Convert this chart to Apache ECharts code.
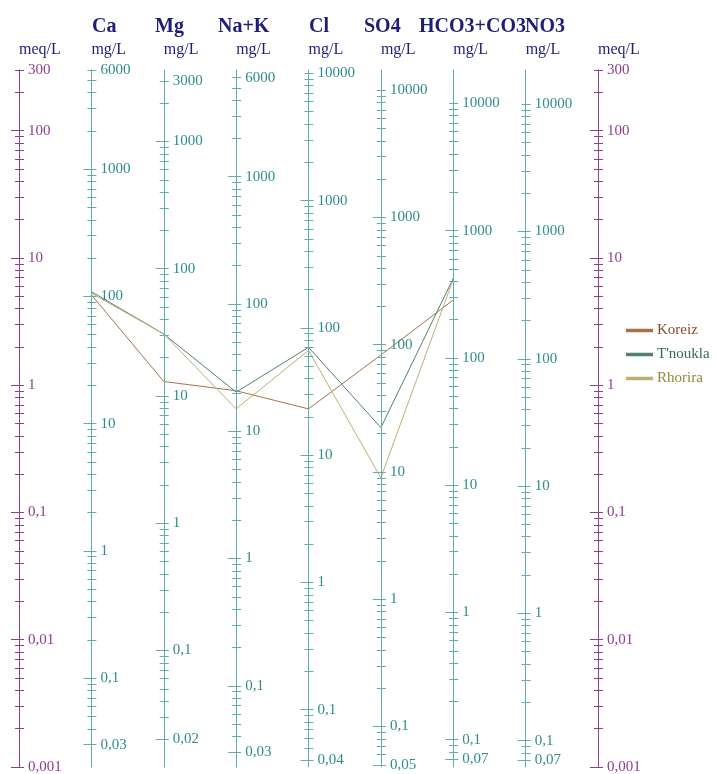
<!DOCTYPE html>
<html>
<head>
<meta charset="utf-8">
<title>Schoeller</title>
<script src="https://cdn.jsdelivr.net/npm/echarts@6/dist/echarts.min.js"></script>
<style>
  html, body { margin: 0; padding: 0; background: #fff; }
  #chart { width: 717px; height: 774px; }
</style>
</head>
<body>
<div id="chart"></div>
<script>
// ions, in the order of the vertical axes (between the two meq/L axes)
const ions = ['Ca', 'Mg', 'Na+K', 'Cl', 'SO4', 'HCO3+CO3', 'NO3'];
// mg per meq for each ion
const eqWeights = [20.04, 12.15, 22.99, 35.45, 48.03, 61.02, 62.0];

// samples, mg/L (NO3 not measured)
const sampleNames = ['Koreiz', "T'noukla", 'Rhorira'];
const koreiz = [103, 13, 20.8, 23.1, 83, 285, null];
const tnoukla = [109, 30.7, 20.3, 70.4, 22.3, 422, null];
const rhorira = [106, 30.7, 15.0, 66.5, 9.0, 415, null];

// labelled ticks of each axis
const meqLabels = [0.001, 0.01, 0.1, 1, 10, 100, 300];
const caLabels = [0.03, 0.1, 1, 10, 100, 1000, 6000];
const mgLabels = [0.02, 0.1, 1, 10, 100, 1000, 3000];
const naLabels = [0.03, 0.1, 1, 10, 100, 1000, 6000];
const clLabels = [0.04, 0.1, 1, 10, 100, 1000, 10000];
const so4Labels = [0.05, 0.1, 1, 10, 100, 1000, 10000];
const hco3Labels = [0.07, 0.1, 1, 10, 100, 1000, 10000];
const no3Labels = [0.07, 0.1, 1, 10, 100, 1000, 10000];
const ionLabels = [caLabels, mgLabels, naLabels, clLabels, so4Labels, hco3Labels, no3Labels];

// meq/L range shared by every axis
const meqMin = 0.001;
const meqMax = 300;

const FONT = 'Liberation Serif';
const PURPLE = '#8e3f8e';
const TEAL_LINE = '#62acac';
const TEAL_TEXT = '#2f8c8c';
const NAVY = '#1e1e78';
const lineColors = ['#a8704c', '#4f8273', '#bdb070'];
const textColors = ['#8b4a26', '#2e6e50', '#8e8a3a'];

const log10 = Math.log10;

// every n*10^k between the first and the last label
function tickValues(labels) {
  const lo = labels[0];
  const hi = labels[labels.length - 1];
  const out = [];
  for (let k = Math.floor(log10(lo)); k <= Math.ceil(log10(hi)); k++) {
    for (let n = 1; n <= 9; n++) {
      const v = +(n * Math.pow(10, k)).toPrecision(6);
      if (v >= lo * 0.999 && v <= hi * 1.001) out.push(v);
    }
  }
  return out;
}

function fmt(v) {
  return String(+Math.pow(10, v).toPrecision(6)).replace('.', ',');
}

// axis descriptions: meq/L, ions in mg/L, meq/L
const axisDefs = [{ unit: 'meq/L', factor: 1, labels: meqLabels, line: PURPLE, text: PURPLE }]
  .concat(ions.map((ion, i) => ({
    unit: 'mg/L', factor: eqWeights[i], labels: ionLabels[i], line: TEAL_LINE, text: TEAL_TEXT
  })))
  .concat([{ unit: 'meq/L', factor: 1, labels: meqLabels, line: PURPLE, text: PURPLE }]);

// three overlaid layers of the same axes: right ticks + labels, short left ticks, long left ticks
// (parallel axes ignore axisTick.inside, so the left ticks use a negative length)
function buildAxes(layer) {
  return axisDefs.map((d, i) => {
    const ticks = tickValues(d.labels);
    const longTicks = d.labels.slice(0, -1);
    const axis = {
      dim: i,
      parallelIndex: layer,
      type: 'value',
      min: log10(meqMin * d.factor),
      max: log10(meqMax * d.factor),
      silent: true,
      axisLine: { show: layer === 0, lineStyle: { color: d.line, width: 1 } },
      splitLine: { show: false },
      // parallel always shows labels, so blank them on the tick-only layers
      axisLabel: { formatter: () => '', customValues: [] }
    };
    if (layer === 0) {
      axis.name = d.unit;
      axis.nameLocation = 'end';
      axis.nameGap = 20;
      axis.nameTextStyle = {
        fontFamily: FONT, fontSize: 16, color: NAVY, align: 'left', verticalAlign: 'middle'
      };
      axis.axisTick = {
        show: true, length: 5,
        lineStyle: { color: d.line, width: 1 },
        customValues: ticks.map(log10)
      };
      axis.axisLabel = {
        show: true, margin: 9, fontFamily: FONT, fontSize: 15, color: d.text,
        customValues: d.labels.map(log10),
        formatter: fmt
      };
    } else if (layer === 1) {
      axis.axisTick = {
        show: true, length: -4,
        lineStyle: { color: d.line, width: 1 },
        customValues: ticks.map(log10)
      };
    } else {
      axis.axisTick = {
        show: true, length: -8,
        lineStyle: { color: d.line, width: 1 },
        customValues: longTicks.map(log10)
      };
    }
    return axis;
  });
}

function toRow(values) {
  return ['-'].concat(values.map(v => (v == null ? '-' : log10(v)))).concat(['-']);
}

const titleLefts = [92, 155, 218, 309, 364, 419, 525];

const chart = echarts.init(document.getElementById('chart'));

const parallelBox = { left: 19, right: 119, top: 70, bottom: 7 };

const sampleSeries = [koreiz, tnoukla, rhorira].map((vals, s) => ({
  name: sampleNames[s],
  type: 'parallel',
  parallelIndex: 0,
  silent: true,
  lineStyle: { width: 1, opacity: 1, color: lineColors[s] },
  data: [toRow(vals)]
}));

// empty series so that the two tick-only layers get drawn
const tickLayerSeries = [1, 2].map(p => ({
  name: 'ticks' + p,
  type: 'parallel',
  parallelIndex: p,
  silent: true,
  lineStyle: { opacity: 0 },
  data: []
}));

const option = {
  animation: false,
  backgroundColor: '#fff',
  color: lineColors,
  title: ions.map((ion, i) => ({
    text: ion,
    left: titleLefts[i],
    top: 17,
    padding: 0,
    textStyle: { fontFamily: FONT, fontSize: 20, fontWeight: 'bold', color: NAVY }
  })),
  legend: {
    orient: 'vertical',
    left: 626,
    top: 323,
    padding: 0,
    icon: 'rect',
    itemWidth: 25,
    itemHeight: 1.5,
    itemGap: 9,
    textStyle: { fontFamily: FONT, fontSize: 15 },
    data: sampleNames.map((n, i) => ({ name: n, textStyle: { color: textColors[i] } }))
  },
  parallel: [0, 1, 2].map(() => Object.assign({}, parallelBox)),
  parallelAxis: buildAxes(0).concat(buildAxes(1), buildAxes(2)),
  series: sampleSeries.concat(tickLayerSeries)
};

chart.setOption(option);
window.addEventListener('resize', () => chart.resize());
</script>
</body>
</html>
